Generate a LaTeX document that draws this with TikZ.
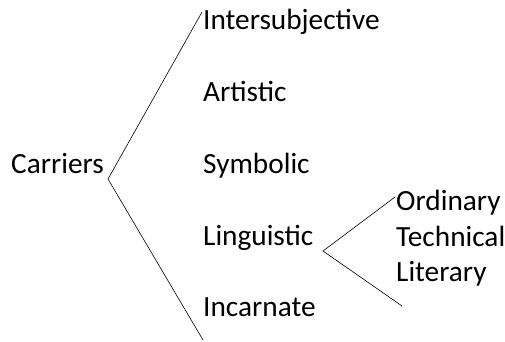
\documentclass[tikz,border=0pt]{standalone}
\usepackage{fontspec}
\setmainfont{Carlito}
\usepackage{tikz}
\usetikzlibrary{positioning}

\tikzset{lbl/.style={anchor=base west,inner sep=0pt,font=\fontsize{29.3}{35}\selectfont},
brace/.style={line width=0.6pt,black}}

\begin{document}
\begin{tikzpicture}[x=1pt,y=-1pt]
\useasboundingbox (0,0) rectangle (505,341);
\node[lbl] (carriers) at (11,173) {Carriers};
\node[lbl] (inter) at (203,29) {Intersubjective};
\node[lbl] (art) at (203,101) {Artistic};
\node[lbl] (sym) at (203,173) {Symbolic};
\node[lbl] (ling) at (203,245) {Linguistic};
\node[lbl] (inc) at (203,316) {Incarnate};
\node[lbl] (ord) at (396,210) {Ordinary};
\node[lbl] (tech) at (396,246) {Technical};
\node[lbl] (lit) at (396,281) {Literary};
% bracket ends
\coordinate (root) at (108,179);
\coordinate (rtop) at (202,12);
\coordinate (rbot) at (203,340);
\coordinate (sub) at (323,251);
\coordinate (stop) at (395,197);
\coordinate (sbot) at (402,306);
\draw[brace](rtop)--(root)--(rbot);
\draw[brace](stop)--(sub)--(sbot);
\end{tikzpicture}
\end{document}
